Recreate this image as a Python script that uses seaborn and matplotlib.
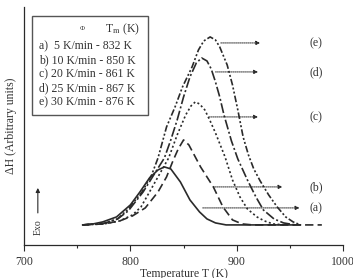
import matplotlib
matplotlib.use('Agg')
from matplotlib import pyplot as plt
import pandas as pd
import seaborn as sns

# curves: temperature (K) and enthalpy signal (arbitrary units)
t_a = [755, 765, 774, 787, 800, 809, 818, 826, 832, 838, 847, 856, 865, 872, 880, 890, 960]
h_a = [0, 1, 3, 8, 20, 33, 47, 55, 58, 56, 43, 25, 13, 6, 2, 0, 0]

t_b = [755, 775, 790, 802, 814, 826, 834, 840, 845, 850, 855, 861, 866, 872, 878, 887, 896, 905, 915, 980]
h_b = [0, 1, 4, 9, 17, 33, 48, 64, 76, 85, 80, 68, 58, 48, 38, 18, 5, 1, 0, 0]

t_c = [755, 775, 790, 802, 810, 818, 827, 836, 844, 852, 857, 861, 865, 870, 875, 880, 889, 896,
       903, 910, 919, 926, 934, 945]
h_c = [0, 1, 4, 10, 18, 33, 50, 67, 90, 110, 119, 123, 121, 115, 104, 92, 68, 45, 28, 16, 8, 4, 1, 0]

t_d = [755, 775, 788, 798, 812, 822, 832, 838, 844, 850, 856, 862, 867, 872, 876, 880, 884, 888,
       895, 901, 910, 918, 925, 935, 944, 955]
h_d = [0, 1.5, 6, 14, 33, 50, 67, 85, 105, 128, 148, 162, 167, 164, 156, 143, 128, 110, 84, 66,
       45, 28, 15, 6, 2, 0]

t_e = [755, 775, 788, 798, 811, 820, 826, 834, 842, 849, 858, 864, 869, 875, 880, 884, 891, 896,
       901, 906, 911, 916, 922, 930, 938, 946, 953, 960]
h_e = [0, 1.5, 6, 16, 33, 50, 67, 98, 118, 138, 158, 175, 184, 188, 185, 178, 160, 140, 115, 88,
       70, 56, 44, 30, 18, 8, 3, 0]

curve_names = ['(a)', '(b)', '(c)', '(d)', '(e)']
legend_lines = ['a)  5 K/min - 832 K', 'b) 10 K/min - 850 K', 'c) 20 K/min - 861 K',
                'd) 25 K/min - 867 K', 'e) 30 K/min - 876 K']

# where the dotted pointer arrows sit
arrow_start = [868, 878, 874, 880, 885]
arrow_end = [959, 943, 920, 920, 922]
arrow_h = [17, 38, 108, 153, 182]

dfs = []
for name, t, h in zip(curve_names, [t_a, t_b, t_c, t_d, t_e], [h_a, h_b, h_c, h_d, h_e]):
    dfs.append(pd.DataFrame({'T': t, 'H': h, 'curve': name}))
df = pd.concat(dfs).reset_index(drop=True)

sns.set_theme(style='white')
plt.rcParams['font.family'] = ['Liberation Serif', 'DejaVu Serif']
plt.rcParams['mathtext.fontset'] = 'stix'

fig = plt.figure(figsize=(3.53, 2.78), dpi=100)
ax = fig.add_axes([0.068, 0.119, 0.904, 0.856])

ink = '#2a2a2a'
txt = '#333333'
fs = 8.5
styles = {'(a)': '-', '(b)': (0, (5, 2.5)), '(c)': (0, (1.2, 1.5)),
          '(d)': (0, (6, 1.5, 1.2, 1.5)), '(e)': (0, (4, 1.3, 1.2, 1.3, 1.2, 1.3))}
for name in curve_names:
    sns.lineplot(data=df[df['curve'] == name], x='T', y='H', ax=ax, color=ink,
                 linewidth=1.2, linestyle=styles[name], estimator=None, sort=False)

for x0, x1, y, name in zip(arrow_start, arrow_end, arrow_h, curve_names):
    ax.annotate('', xy=(x1, y), xytext=(x0, y),
                arrowprops=dict(arrowstyle='-|>', color=ink, lw=0.7, linestyle=(0, (1, 1)),
                                mutation_scale=6, shrinkA=0, shrinkB=0))
    ax.text(974.5, y, name, ha='center', va='center', fontsize=fs, color=txt)

ax.set_xlim(700, 1000)
ax.set_ylim(-20, 218)
ax.set_xticks([700, 800, 900, 1000])
ax.set_xticks([750, 850, 950], minor=True)
ax.set_yticks([])
ax.tick_params(axis='x', which='major', direction='out', length=4, width=0.8, color=ink,
               labelsize=fs, labelcolor=txt, pad=4, bottom=True)
ax.tick_params(axis='x', which='minor', direction='out', length=2, width=0.8, color=ink, bottom=True)
for side in ['top', 'right']:
    ax.spines[side].set_visible(False)
for side in ['left', 'bottom']:
    ax.spines[side].set_color(ink)
    ax.spines[side].set_linewidth(0.9)

ax.set_xlabel('Temperature T (K)', fontsize=fs, color=txt, labelpad=0)
ax.set_ylabel(u'\u0394H (Arbitrary units)', fontsize=fs, color=txt, labelpad=5)

# Exo marker
ax.text(713, -2, 'Exo', rotation=90, ha='center', va='center', fontsize=7, color=txt)
ax.annotate('', xy=(713, 37), xytext=(713, 12),
            arrowprops=dict(arrowstyle='-|>', color=ink, lw=0.8, mutation_scale=6,
                            shrinkA=0, shrinkB=0))

# legend box with heating rates
box = plt.Rectangle((32 / 353, 1 - 115 / 278), 116 / 353, 99 / 278, transform=fig.transFigure,
                    fill=False, edgecolor='#555555', linewidth=1.0)
fig.patches.append(box)
fig.text(82 / 353, 1 - 29 / 278, u'\u03a6', fontsize=5, ha='center', va='center', color=txt)
fig.text(105 / 353, 1 - 29 / 278, r'T$_{\rm m}$ (K)', fontsize=fs, ha='left', va='center', color=txt)
for i, line in enumerate(legend_lines):
    fig.text(39 / 353, 1 - (46 + 14 * i) / 278, line, fontsize=fs, ha='left', va='center', color=txt)

fig.savefig('out.png', dpi=100)
